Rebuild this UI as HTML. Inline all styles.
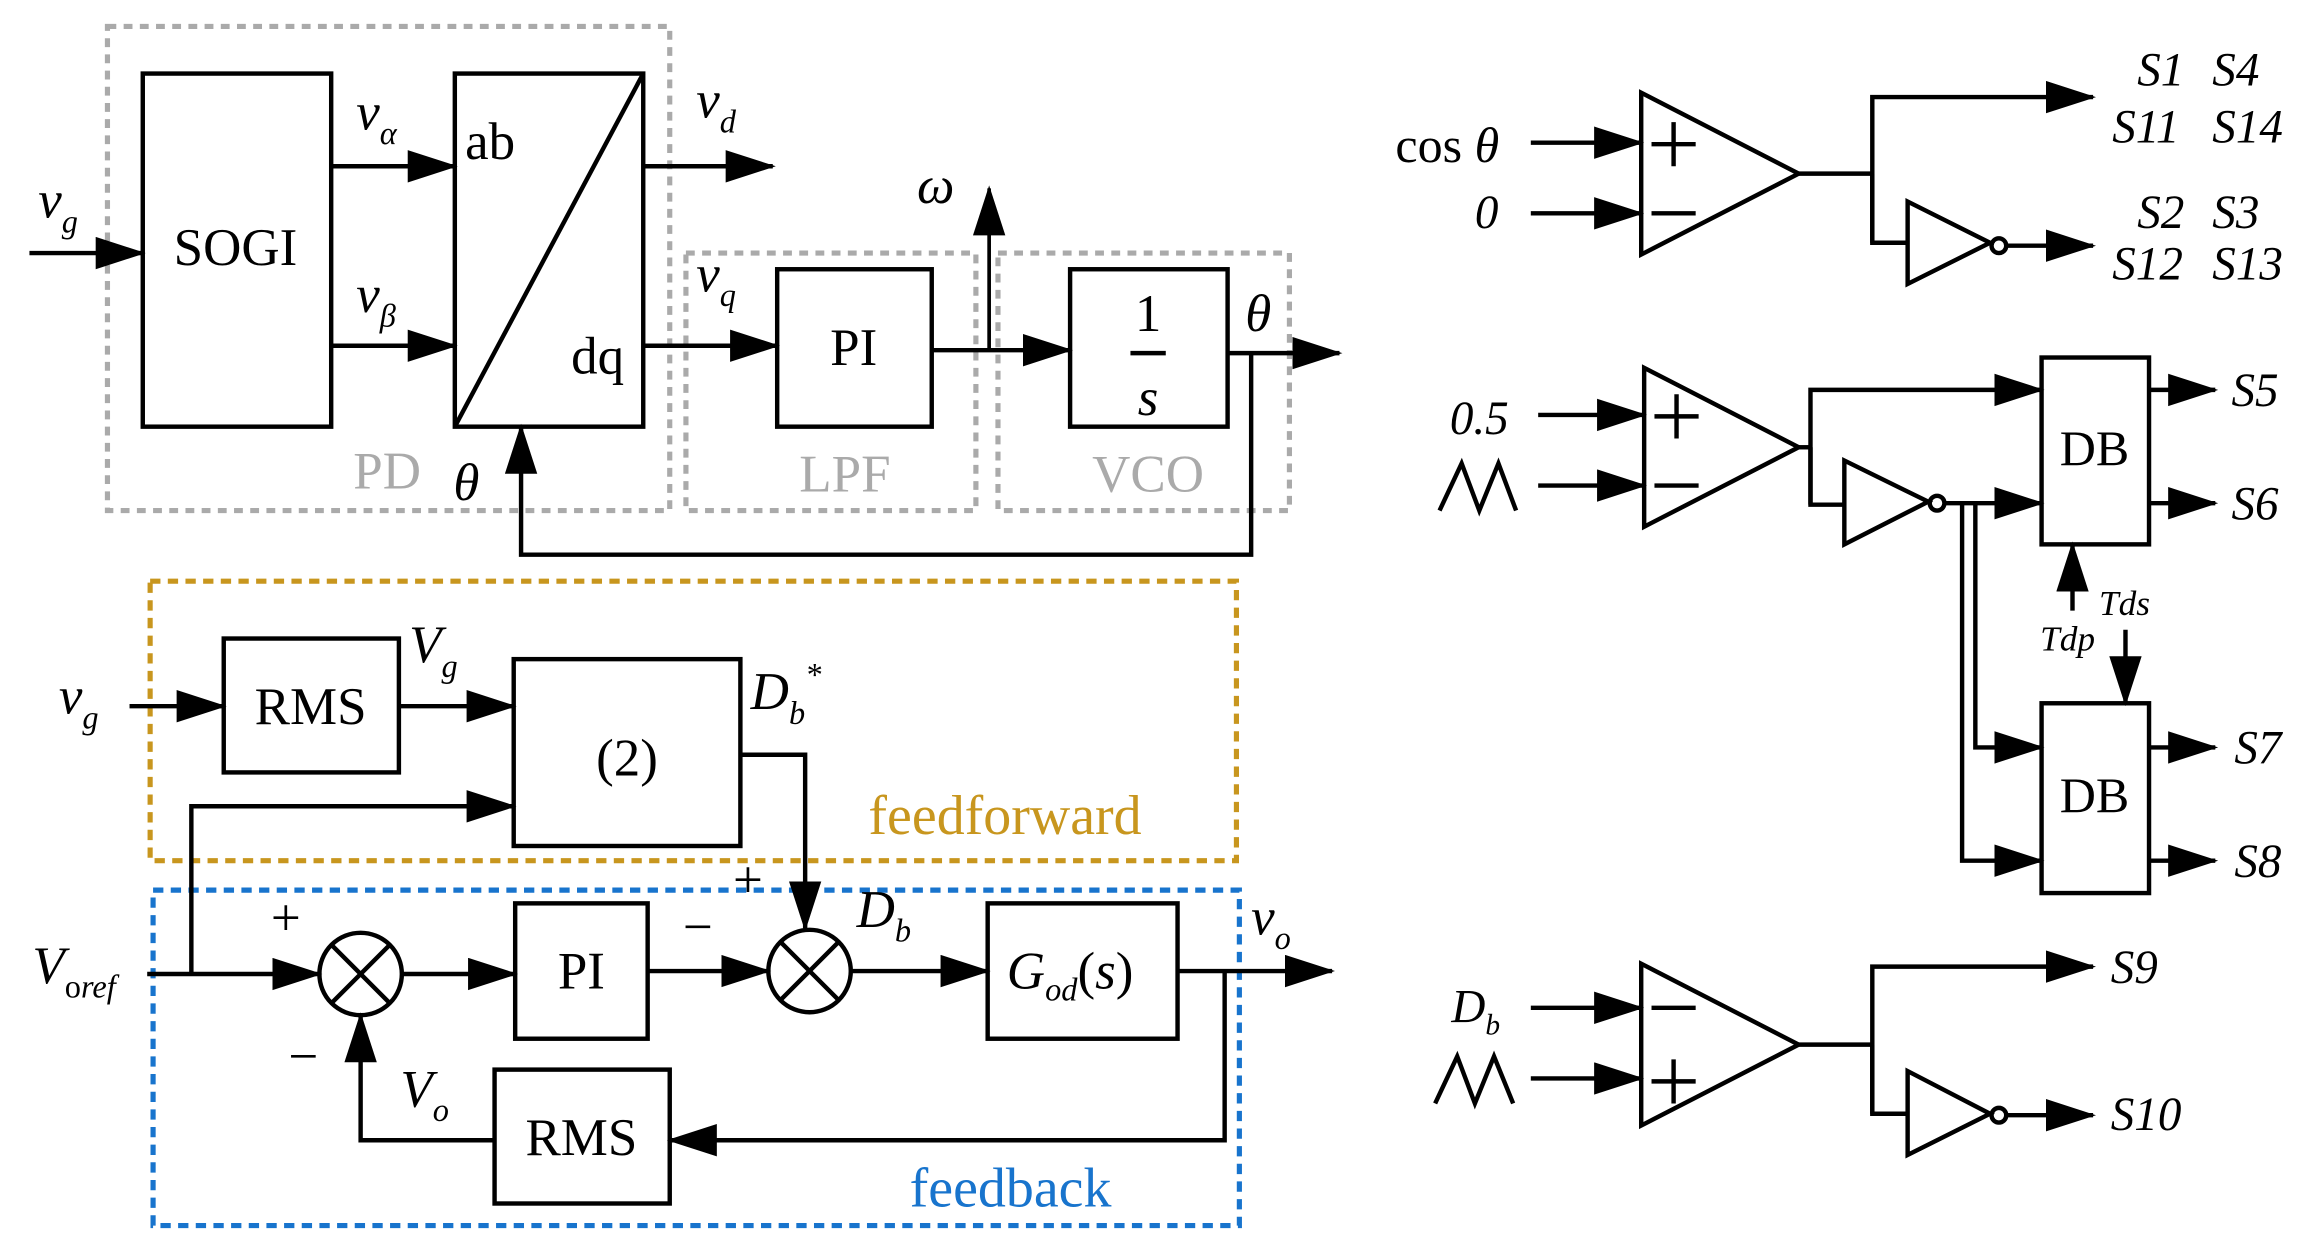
<!DOCTYPE html>
<html><head><meta charset="utf-8"><style>
html,body{margin:0;padding:0;background:#fff;}
svg{display:block;}
svg text{font-family:'Liberation Serif','DejaVu Serif',serif;}
</style></head><body>
<svg width="2308" height="1255" viewBox="0 0 1568 853" preserveAspectRatio="none" xmlns="http://www.w3.org/2000/svg" style="font-family:'Liberation Serif','DejaVu Serif',serif">
<defs>
<marker id="a" markerUnits="userSpaceOnUse" markerWidth="34" markerHeight="24" refX="32" refY="11" orient="auto">
<path d="M0,0 L34,11 L0,22 Z" fill="#000"/></marker>
</defs>
<g fill="none" stroke="#aaa" stroke-width="3.5" stroke-dasharray="6,5">
<rect x="73" y="18" width="382" height="329"/>
<rect x="466" y="172" width="197" height="175"/>
<rect x="678" y="172" width="198" height="175"/>
</g>
<rect x="102" y="395" width="738" height="190" fill="none" stroke="#c8961e" stroke-width="3.5" stroke-dasharray="7,5"/>
<rect x="104" y="605" width="738" height="228" fill="none" stroke="#1874cd" stroke-width="3.5" stroke-dasharray="7,5"/>

<g fill="none" stroke="#000" stroke-width="3">
<rect x="97" y="50" width="128" height="240"/>
<rect x="309" y="50" width="128" height="240"/>
<line x1="309" y1="290" x2="437" y2="50"/>
<rect x="528" y="183" width="105" height="107"/>
<rect x="727" y="183" width="107" height="107"/>
<line x1="768" y1="240" x2="792" y2="240"/>
<rect x="152" y="434" width="119" height="91"/>
<rect x="349" y="448" width="154" height="127"/>
<rect x="350" y="614" width="90" height="92"/>
<rect x="671" y="614" width="129" height="92"/>
<rect x="336" y="727" width="119" height="91"/>
<circle cx="245" cy="662" r="28"/><line x1="225" y1="642" x2="265" y2="682"/><line x1="265" y1="642" x2="225" y2="682"/>
<circle cx="550" cy="660" r="28"/><line x1="530" y1="640" x2="570" y2="680"/><line x1="570" y1="640" x2="530" y2="680"/>
</g>
<g fill="none" stroke="#000" stroke-width="3">
<line x1="20" y1="172" x2="97" y2="172" marker-end="url(#a)"/>
<line x1="225" y1="113" x2="309" y2="113" marker-end="url(#a)"/>
<line x1="225" y1="235" x2="309" y2="235" marker-end="url(#a)"/>
<line x1="437" y1="113" x2="525" y2="113" marker-end="url(#a)"/>
<line x1="437" y1="235" x2="528" y2="235" marker-end="url(#a)"/>
<line x1="633" y1="238" x2="727" y2="238" marker-end="url(#a)"/>
<line x1="672" y1="238" x2="672" y2="128" stroke-width="2.5" marker-end="url(#a)"/>
<line x1="834" y1="240" x2="910" y2="240" marker-end="url(#a)"/>
<polyline points="850,240 850,377 354,377 354,290" marker-end="url(#a)"/>
<line x1="88" y1="480" x2="152" y2="480" marker-end="url(#a)"/>
<line x1="271" y1="480" x2="349" y2="480" marker-end="url(#a)"/>
<polyline points="503,513 547,513 547,631" marker-end="url(#a)"/>
<polyline points="130,662 130,548 349,548" marker-end="url(#a)"/>
<line x1="100" y1="662" x2="217" y2="662" marker-end="url(#a)"/>
<line x1="273" y1="662" x2="350" y2="662" marker-end="url(#a)"/>
<line x1="440" y1="660" x2="522" y2="660" marker-end="url(#a)"/>
<line x1="578" y1="660" x2="671" y2="660" marker-end="url(#a)"/>
<line x1="800" y1="660" x2="905" y2="660" marker-end="url(#a)"/>
<polyline points="832,660 832,775 455,775" marker-end="url(#a)"/>
<polyline points="336,775 245,775 245,690" marker-end="url(#a)"/>
</g>
<g font-size="36" fill="#000">
<text x="160" y="180" text-anchor="middle">SOGI</text>
<text x="316" y="108">ab</text>
<text x="388" y="254">dq</text>
<text x="580" y="248" text-anchor="middle">PI</text>
<text x="780" y="225" text-anchor="middle">1</text>
<text x="780" y="282" text-anchor="middle" font-style="italic">s</text>
<text x="211" y="492" text-anchor="middle">RMS</text>
<text x="426" y="527" text-anchor="middle">(2)</text>
<text x="395" y="672" text-anchor="middle">PI</text>
<text x="395" y="785" text-anchor="middle">RMS</text>
<text x="684" y="672" font-style="italic">G<tspan font-size="22" dy="8">od</tspan><tspan dy="-8" font-style="normal">(</tspan>s<tspan font-style="normal">)</tspan></text>
<text x="26" y="148" font-style="italic">v<tspan font-size="22" dy="10">g</tspan></text>
<text x="242" y="88" font-style="italic">v<tspan font-size="22" dy="10">α</tspan></text>
<text x="242" y="212" font-style="italic">v<tspan font-size="22" dy="10">β</tspan></text>
<text x="473" y="80" font-style="italic">v<tspan font-size="22" dy="10">d</tspan></text>
<text x="473" y="198" font-style="italic">v<tspan font-size="22" dy="10">q</tspan></text>
<text x="623" y="138" font-style="italic">ω</text>
<text x="846" y="225" font-style="italic">θ</text>
<text x="308" y="340" font-style="italic">θ</text>
<text x="40" y="485" font-style="italic">v<tspan font-size="22" dy="10">g</tspan></text>
<text x="278" y="450" font-style="italic">V<tspan font-size="22" dy="10">g</tspan></text>
<text x="510" y="482" font-style="italic">D<tspan font-size="22" dy="10">b</tspan><tspan font-size="22" dy="-26">*</tspan></text>
<text x="582" y="630" font-style="italic">D<tspan font-size="22" dy="10">b</tspan></text>
<text x="850" y="635" font-style="italic">v<tspan font-size="22" dy="10">o</tspan></text>
<text x="22" y="668" font-style="italic">V<tspan font-size="22" dy="10" font-style="normal">o</tspan><tspan font-size="22">ref</tspan></text>
<text x="272" y="752" font-style="italic">V<tspan font-size="22" dy="10">o</tspan></text>
<text x="184" y="636">+</text>
<text x="196" y="730">−</text>
<text x="464" y="642">−</text>
<text x="498" y="610">+</text>
</g>
<g font-size="36" fill="#aaa">
<text x="240" y="332">PD</text>
<text x="543" y="334">LPF</text>
<text x="742" y="334">VCO</text>
</g>
<text x="590" y="567" font-size="38" fill="#c8961e">feedforward</text>
<text x="618" y="820" font-size="38" fill="#1874cd">feedback</text>

<g fill="none" stroke="#000" stroke-width="3">
<polygon points="1115,63 1115,173 1222,118"/>
<polygon points="1117,250 1117,358 1222,304"/>
<polygon points="1115,655 1115,765 1222,710"/>
<polygon points="1296,137 1296,193 1352,165"/>
<polygon points="1253,313 1253,370 1310,341"/>
<polygon points="1296,728 1296,785 1352,757"/>
<circle cx="1358" cy="167" r="5"/>
<circle cx="1316" cy="342" r="5"/>
<circle cx="1358" cy="758" r="5"/>
<rect x="1387" y="243" width="73" height="127"/>
<rect x="1387" y="478" width="73" height="129"/>
<polyline points="978,347 993,315 1005,347 1018,315 1030,347"/>
<polyline points="975,750 990,718 1002,750 1015,718 1028,750"/>
<line x1="1122" y1="98" x2="1152" y2="98"/><line x1="1137" y1="83" x2="1137" y2="113"/>
<line x1="1122" y1="145" x2="1152" y2="145"/>
<line x1="1124" y1="283" x2="1154" y2="283"/><line x1="1139" y1="268" x2="1139" y2="298"/>
<line x1="1124" y1="330" x2="1154" y2="330"/>
<line x1="1122" y1="685" x2="1152" y2="685"/>
<line x1="1122" y1="735" x2="1152" y2="735"/><line x1="1137" y1="720" x2="1137" y2="750"/>
<line x1="1040" y1="97" x2="1115" y2="97" marker-end="url(#a)"/>
<line x1="1040" y1="145" x2="1115" y2="145" marker-end="url(#a)"/>
<polyline points="1222,118 1272,118"/>
<polyline points="1272,165 1272,66 1422,66" marker-end="url(#a)"/>
<polyline points="1272,118 1272,165 1296,165"/>
<line x1="1363" y1="167" x2="1422" y2="167" marker-end="url(#a)"/>
<line x1="1045" y1="282" x2="1117" y2="282" marker-end="url(#a)"/>
<line x1="1045" y1="330" x2="1117" y2="330" marker-end="url(#a)"/>
<polyline points="1222,304 1230,304"/>
<polyline points="1230,343 1230,265 1387,265" marker-end="url(#a)"/>
<polyline points="1230,304 1230,343 1253,343"/>
<line x1="1321" y1="342" x2="1387" y2="342" marker-end="url(#a)"/>
<polyline points="1342,342 1342,508 1387,508" marker-end="url(#a)"/>
<polyline points="1333,342 1333,585 1387,585" marker-end="url(#a)"/>
<line x1="1460" y1="265" x2="1505" y2="265" marker-end="url(#a)"/>
<line x1="1460" y1="342" x2="1505" y2="342" marker-end="url(#a)"/>
<line x1="1460" y1="508" x2="1505" y2="508" marker-end="url(#a)"/>
<line x1="1460" y1="585" x2="1505" y2="585" marker-end="url(#a)"/>
<line x1="1408" y1="415" x2="1408" y2="370" marker-end="url(#a)"/>
<line x1="1444" y1="428" x2="1444" y2="478" marker-end="url(#a)"/>
<line x1="1040" y1="685" x2="1115" y2="685" marker-end="url(#a)"/>
<line x1="1040" y1="733" x2="1115" y2="733" marker-end="url(#a)"/>
<polyline points="1222,710 1272,710"/>
<polyline points="1272,757 1272,657 1422,657" marker-end="url(#a)"/>
<polyline points="1272,710 1272,757 1296,757"/>
<line x1="1363" y1="758" x2="1422" y2="758" marker-end="url(#a)"/>
</g>
<g font-size="34" fill="#000">
<text x="948" y="110">cos <tspan font-style="italic">θ</tspan></text>
<text x="1423" y="316" text-anchor="middle">DB</text>
<text x="1423" y="552" text-anchor="middle">DB</text>
</g>
<g font-size="32" fill="#000" font-style="italic">
<text x="1002" y="155">0</text>
<text x="985" y="295">0.5</text>
<text x="986" y="695">D<tspan font-size="20" dy="8">b</tspan></text>
<text x="1452" y="58">S1</text><text x="1503" y="58">S4</text>
<text x="1435" y="97">S11</text><text x="1503" y="97">S14</text>
<text x="1452" y="155">S2</text><text x="1503" y="155">S3</text>
<text x="1435" y="190">S12</text><text x="1503" y="190">S13</text>
<text x="1516" y="276">S5</text>
<text x="1516" y="353">S6</text>
<text x="1518" y="519">S7</text>
<text x="1518" y="596">S8</text>
<text x="1434" y="668">S9</text>
<text x="1434" y="768">S10</text>
</g>
<g font-size="24" fill="#000" font-style="italic">
<text x="1426" y="418">Tds</text>
<text x="1386" y="442">Tdp</text>
</g>
</svg>
</body></html>
